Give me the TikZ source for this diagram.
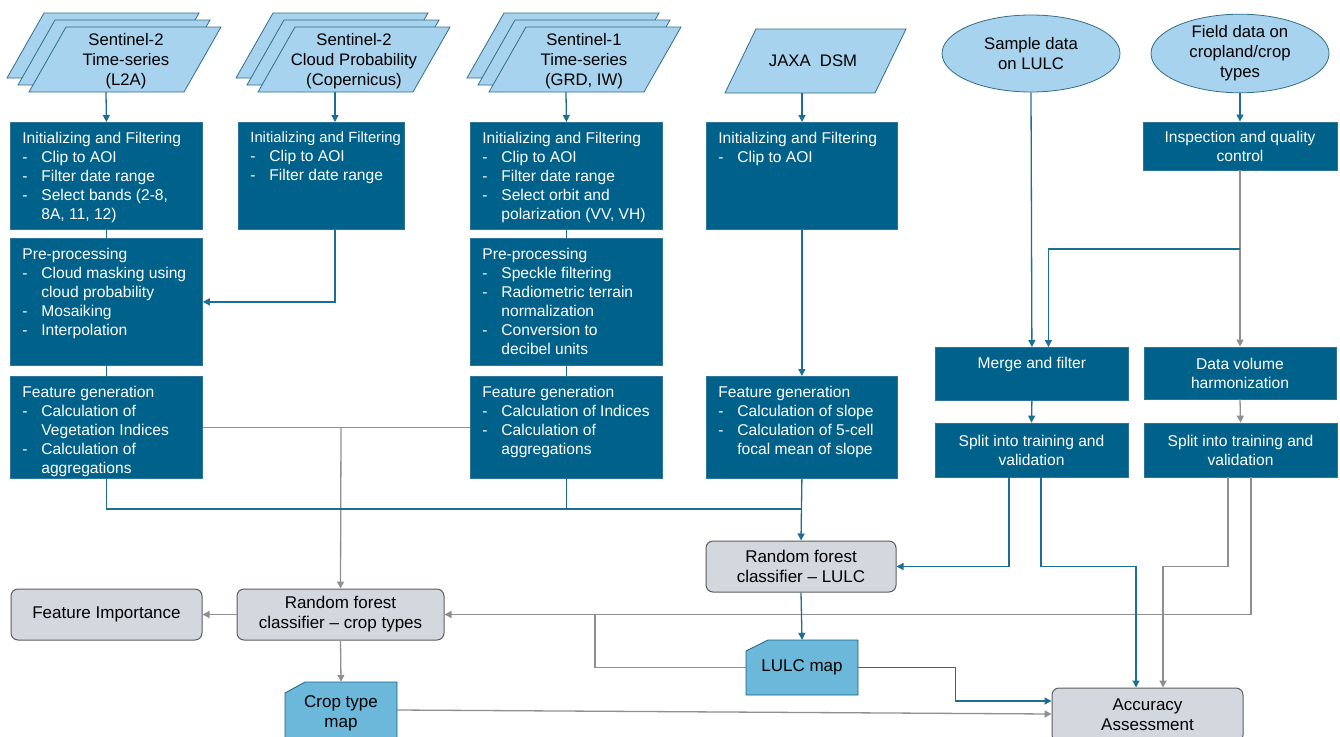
\documentclass[tikz,border=0pt]{standalone}
\usepackage{fontspec}
\setmainfont{Liberation Sans}
\usetikzlibrary{arrows.meta,shapes.geometric}
\definecolor{boxblue}{HTML}{00618A}
\definecolor{boxedge}{HTML}{2C7599}
\definecolor{lightblue}{HTML}{A8D3EE}
\definecolor{paraedge}{HTML}{2F6E8C}
\definecolor{mapblue}{HTML}{6CB8DB}
\definecolor{mapedge}{HTML}{1F5F80}
\definecolor{greyfill}{HTML}{D3D8DF}
\definecolor{greyedge}{HTML}{5C5C5C}
\definecolor{lineblue}{HTML}{1C6E93}
\definecolor{linegrey}{HTML}{8F8F8F}
\newcommand{\itm}{\makebox[19pt][l]{-}}
\newcommand{\indt}{\hspace*{19pt}}

\begin{document}
\begin{tikzpicture}[x=1pt,y=-1pt,
	darkbox/.style={fill=boxblue,draw=boxedge,line width=0.8pt,text=white,font=\fontsize{15.6}{19}\selectfont},
	tbox/.style 2 args={darkbox,anchor=north west,inner xsep=12pt,inner ysep=9.7pt,
		execute at begin node={\begin{minipage}[t][\dimexpr#2pt-19.4pt\relax][t]{\dimexpr#1pt-24pt\relax}\hyphenpenalty=10000},
		execute at end node={\end{minipage}}},
	cbox/.style 2 args={darkbox,align=center,inner sep=0pt,minimum width=#1pt,minimum height=#2pt},
	greybox/.style 2 args={fill=greyfill,draw=greyedge,line width=1pt,rounded corners=7pt,align=center,
		inner sep=0pt,minimum width=#1pt,minimum height=#2pt,font=\fontsize{17}{20}\selectfont},
	srcell/.style={ellipse,fill=lightblue,draw=paraedge,line width=0.8pt,minimum width=178pt,minimum height=77pt,
		inner sep=0pt,align=center,font=\fontsize{16.7}{20}\selectfont},
	para/.style={fill=lightblue,draw=paraedge,line width=0.8pt},
	paratxt/.style={align=center,inner sep=0pt,font=\fontsize{16.7}{20}\selectfont},
	mapshape/.style={fill=mapblue,draw=mapedge,line width=0.8pt},
	maptxt/.style={align=center,inner sep=0pt,minimum width=112pt,font=\fontsize{17}{20}\selectfont},
	blueln/.style={draw=lineblue,line width=1.3pt},
	grayln/.style={draw=linegrey,line width=1.3pt},
	bluearr/.style={blueln,-{Triangle[length=7pt,width=7pt]}},
	grayarr/.style={grayln,-{Triangle[length=7pt,width=7pt]}}]

	\useasboundingbox (0,0) rectangle (1340,736);

	% input data
	\foreach \k in {2,1,0}
		\filldraw[para] (29-11*\k,92-7*\k) -- ++(155,0) -- ++(37,-65) -- ++(-155,0) -- cycle;
	\foreach \k in {2,1,0}
		\filldraw[para] (258-11*\k,92-7*\k) -- ++(155,0) -- ++(37,-65) -- ++(-155,0) -- cycle;
	\foreach \k in {2,1,0}
		\filldraw[para] (489-11*\k,92-7*\k) -- ++(155,0) -- ++(37,-65) -- ++(-155,0) -- cycle;
	\filldraw[para] (725,93) -- ++(150,0) -- ++(31,-64) -- ++(-150,0) -- cycle;

	\node[paratxt] (s2src) at (126,61) {Sentinel-2\\Time-series\\(L2A)};
	\node[paratxt] (cloudsrc) at (354,61) {Sentinel-2\\Cloud Probability\\(Copernicus)};
	\node[paratxt] (s1src) at (584,61) {Sentinel-1\\Time-series\\(GRD, IW)};
	\node[paratxt] (jaxasrc) at (813,61) {JAXA\ \ DSM};
	\coordinate (s2bot) at (106,92);
	\coordinate (cloudbot) at (335,92);
	\coordinate (s1bot) at (566,92);
	\coordinate (jaxabot) at (802,93);

	\node[srcell] (sample) at (1031,53.5) {Sample data\\on LULC};
	\node[srcell] (field) at (1240,53.5) {Field data on\\cropland/crop\\types};

	% processing chains
	\node[tbox={192}{107}] (s2init) at (10,122) {Initializing and Filtering\\\itm Clip to AOI\\\itm Filter date range\\\itm Select bands (2-8,\\\indt 8A, 11, 12)};
	\node[tbox={192}{127}] (s2pre) at (10,238) {Pre-processing\\\itm Cloud masking using\\\indt cloud probability\\\itm Mosaiking\\\itm Interpolation};
	\node[tbox={192}{102}] (s2feat) at (10,376) {Feature generation\\\itm Calculation of\\\indt Vegetation Indices\\\itm Calculation of\\\indt aggregations};

	\node[tbox={166}{107}] (cloudinit) at (238,122) {\mbox{\fontsize{14.8}{19}\selectfont Initializing and Filtering}\\\itm Clip to AOI\\\itm Filter date range};

	\node[tbox={192}{107}] (s1init) at (470,122) {Initializing and Filtering\\\itm Clip to AOI\\\itm Filter date range\\\itm Select orbit and\\\indt polarization (VV, VH)};
	\node[tbox={192}{127}] (s1pre) at (470,238) {Pre-processing\\\itm Speckle filtering\\\itm Radiometric terrain\\\indt normalization\\\itm Conversion to\\\indt decibel units};
	\node[tbox={192}{102}] (s1feat) at (470,376) {Feature generation\\\itm Calculation of Indices\\\itm Calculation of\\\indt aggregations};

	\node[tbox={191}{107}] (jaxainit) at (706,122) {Initializing and Filtering\\\itm Clip to AOI};
	\node[tbox={191}{102}] (jaxafeat) at (706,376) {Feature generation\\\itm Calculation of slope\\\itm Calculation of 5-cell\\\indt focal mean of slope};

	\node[cbox={194}{48}] (inspect) at (1240,146) {Inspection and quality\\control};
	\node[tbox={193}{53}] (merge) at (935,347) {\centering Merge and filter\par};
	\node[cbox={192}{52}] (datavol) at (1240,373) {Data volume\\harmonization};
	\node[cbox={193}{54}] (split1) at (1031.5,450) {Split into training and\\validation};
	\node[cbox={193}{54}] (split2) at (1240.5,450) {Split into training and\\validation};

	% classification
	\node[greybox={190}{51}] (rflulc) at (801,566.5) {Random forest\\classifier -- LULC};
	\node[greybox={207}{51}] (rfcrop) at (340.5,614.5) {Random forest\\classifier -- crop types};
	\node[greybox={191}{51}] (fimp) at (106.5,614.5) {Feature Importance};
	\node[greybox={191}{54}] (acc) at (1147.5,715) {Accuracy\\Assessment};

	\filldraw[mapshape] (285,745) -- (285,693) -- (305,682) -- (397,682) -- (397,745) -- cycle;
	\node[maptxt,minimum height=63pt] (cropmap) at (341,713.5) {Crop type\\map};
	\filldraw[mapshape] (746,695) -- (746,651) -- (768,640) -- (858,640) -- (858,695) -- cycle;
	\node[maptxt,minimum height=55pt] (lulcmap) at (802,667.5) {LULC map};

	% connectors
	\coordinate (gjoin) at (341,427);
	\coordinate (fjoin) at (802,509);
	\coordinate (qjoin) at (1240,249);

	\draw[grayln] (s2feat.east) -- (s1feat.west);
	\draw[grayarr] (gjoin) -- (rfcrop.north);
	\draw[grayln] (inspect.south) -- (qjoin);
	\draw[grayarr] (qjoin) -- (datavol.north);
	\draw[grayarr] (datavol.south) -- (split2.north);
	\draw[grayarr] ([xshift=-12.5pt]split2.south) -- ++(0,89) -| ([xshift=15.5pt]acc.north);
	\draw[grayarr] ([xshift=10.5pt]split2.south) |- (rfcrop.east);
	\draw[grayarr] (rfcrop.west) -- (fimp.east);
	\draw[grayarr] (rfcrop.south) -- (cropmap.north);
	\draw[grayln] (lulcmap.west) -| (595,614.5);
	\draw[grayarr] ([yshift=3.5pt]cropmap.east) -- ([yshift=1pt]acc.west);

	\draw[bluearr] (s2bot) -- (s2init.north);
	\draw[bluearr] (cloudbot) -- (cloudbot |- cloudinit.north);
	\draw[bluearr] (s1bot) -- (s1init.north);
	\draw[bluearr] (jaxabot) -- (jaxabot |- jaxainit.north);
	\draw[blueln] (s2init.south) -- (s2pre.north);
	\draw[blueln] (s2pre.south) -- (s2feat.north);
	\draw[bluearr] (cloudbot |- cloudinit.south) |- (s2pre.east);
	\draw[blueln] (s1init.south) -- (s1pre.north);
	\draw[blueln] (s1pre.south) -- (s1feat.north);
	\draw[bluearr] (jaxainit.south) -- (jaxafeat.north);
	\draw[blueln] (s2feat.south) |- (fjoin);
	\draw[blueln] (s1feat.south) -- (s1feat.south |- fjoin);
	\draw[bluearr] (jaxafeat.south) -- (rflulc.north);

	\draw[bluearr] (sample.south) -- (merge.north);
	\draw[bluearr] (field.south) -- (inspect.north);
	\draw[bluearr] (qjoin) -| ([xshift=16.5pt]merge.north);
	\draw[bluearr] (merge.south) -- (split1.north);
	\draw[bluearr] ([xshift=-22.5pt]split1.south) |- (rflulc.east);
	\draw[bluearr] ([xshift=9.5pt]split1.south) -- ++(0,89) -| ([xshift=-11.5pt]acc.north);
	\draw[bluearr] (rflulc.south) -- (lulcmap.north);
	\draw[bluearr] (lulcmap.east) -- ++(97,0) |- ([yshift=14pt]acc.west);

\end{tikzpicture}
\end{document}
